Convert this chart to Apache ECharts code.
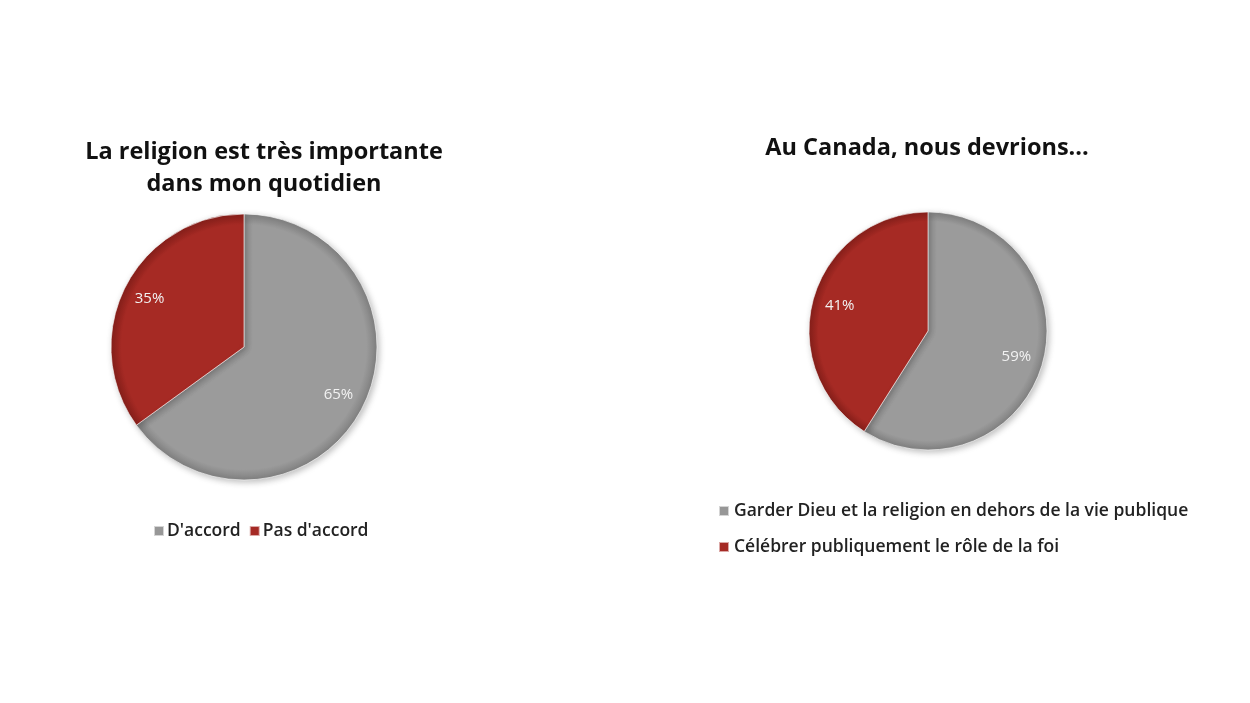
<!DOCTYPE html>
<html>
<head>
<meta charset="utf-8">
<script src="https://cdn.jsdelivr.net/npm/echarts@6/dist/echarts.min.js"></script>
<style>
html, body { margin: 0; padding: 0; background: #fff; }
#chart { width: 1250px; height: 703px; }
</style>
</head>
<body>
<div id="chart"></div>
<script>
var leftTitle = 'La religion est très importante\ndans mon quotidien';
var leftNames = ["D'accord", "Pas d'accord"];
var leftValues = [65, 35];

var rightTitle = 'Au Canada, nous devrions...';
var rightNames = ['Garder Dieu et la religion en dehors de la vie publique', 'Célébrer publiquement le rôle de la foi'];
var rightValues = [59, 41];

var font = 'Open Sans';

// shading is global (pixel coords) so it follows the whole disc
function grad(cx, cy, r, c1, c2) {
    return new echarts.graphic.RadialGradient(cx, cy, r, [
        { offset: 0, color: c1 },
        { offset: 0.92, color: c1 },
        { offset: 1, color: c2 }
    ], true);
}
var legendColors = ['#979797', '#a52a25'];

function build(names, values, cx, cy, r) {
    var fills = [grad(cx, cy, r, '#9b9b9b', '#808080'), grad(cx, cy, r, '#a62a24', '#861f1a')];
    return names.map(function (n, i) {
        return { name: n, value: values[i], itemStyle: { color: fills[i] } };
    });
}
function labelData(names, values) {
    return names.map(function (n, i) {
        return { name: n, value: values[i] };
    });
}
function legendData(names) {
    return names.map(function (n, i) {
        return { name: n, itemStyle: { color: legendColors[i] } };
    });
}

var myChart = echarts.init(document.getElementById('chart'));
var option = {
    backgroundColor: '#ffffff',
    animation: false,
    title: [{
        text: leftTitle,
        left: 259, top: 131, textAlign: 'center',
        textStyle: { fontFamily: font, fontSize: 23.5, fontWeight: 'bold', color: '#111', lineHeight: 32 }
    }, {
        text: rightTitle,
        left: 922, top: 131, textAlign: 'center',
        textStyle: { fontFamily: font, fontSize: 23.5, fontWeight: 'bold', color: '#111' }
    }],
    legend: [{
        data: legendData(leftNames),
        left: 148, top: 517,
        itemWidth: 10, itemHeight: 10, itemGap: 8,
        icon: 'rect',
        textStyle: { fontFamily: font, fontSize: 17.5, fontWeight: 600, color: '#222', padding: [0, 0, 0, -2] }
    }, {
        data: legendData(rightNames),
        orient: 'vertical',
        left: 713, top: 497,
        itemWidth: 10, itemHeight: 10, itemGap: 18,
        icon: 'rect',
        textStyle: { fontFamily: font, fontSize: 17.5, fontWeight: 600, color: '#222' }
    }],
    series: [{
        type: 'pie',
        center: [244, 347], radius: 133,
        startAngle: 90, clockwise: true,
        label: { show: false }, labelLine: { show: false },
        itemStyle: { borderColor: 'rgba(255,255,255,0.6)', borderWidth: 1, shadowBlur: 6, shadowColor: 'rgba(0,0,0,0.25)', shadowOffsetX: 2, shadowOffsetY: 2 },
        data: build(leftNames, leftValues, 244, 347, 133)
    }, {
        type: 'pie', silent: true, legendHoverLink: false,
        center: [244, 347], radius: [101, 105],
        startAngle: 90, clockwise: true,
        itemStyle: { color: 'transparent' },
        label: { show: true, position: 'inside', formatter: '{c}%', color: '#f2f2f2', fontFamily: font, fontSize: 15 },
        labelLine: { show: false },
        data: labelData(leftNames, leftValues)
    }, {
        type: 'pie',
        center: [928, 331], radius: 119,
        startAngle: 90, clockwise: true,
        label: { show: false }, labelLine: { show: false },
        itemStyle: { borderColor: 'rgba(255,255,255,0.6)', borderWidth: 1, shadowBlur: 6, shadowColor: 'rgba(0,0,0,0.25)', shadowOffsetX: 2, shadowOffsetY: 2 },
        data: build(rightNames, rightValues, 928, 331, 119)
    }, {
        type: 'pie', silent: true, legendHoverLink: false,
        center: [928, 331], radius: [87, 91],
        startAngle: 90, clockwise: true,
        itemStyle: { color: 'transparent' },
        label: { show: true, position: 'inside', formatter: '{c}%', color: '#f2f2f2', fontFamily: font, fontSize: 15 },
        labelLine: { show: false },
        data: labelData(rightNames, rightValues)
    }]
};
myChart.setOption(option);
</script>
</body>
</html>
